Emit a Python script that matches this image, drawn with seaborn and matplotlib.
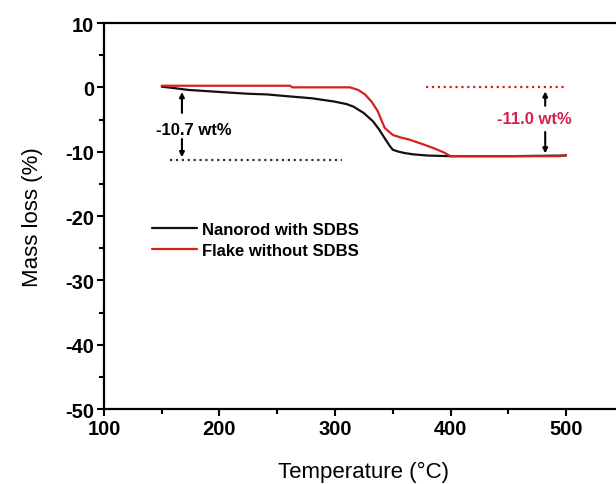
import numpy as np
import pandas as pd
import seaborn as sns
import matplotlib.pyplot as plt

# TGA curves
temp_black = [150, 160, 173, 190, 207, 225, 241, 260, 280, 299, 310, 316, 325, 333, 338,
              343, 347, 350, 355, 360, 367, 380, 400, 450, 500]
mass_black = [0.1, -0.1, -0.4, -0.6, -0.8, -1.0, -1.1, -1.4, -1.7, -2.2, -2.6, -3.0, -4.0, -5.3, -6.5,
              -7.9, -9.0, -9.7, -10.0, -10.2, -10.4, -10.6, -10.7, -10.7, -10.6]

temp_red = [150, 200, 261, 263, 300, 313, 320, 326, 332, 337, 343, 350, 357, 364, 377,
            386, 394, 400, 450, 495, 500]
mass_red = [0.25, 0.25, 0.25, 0.0, 0.0, 0.0, -0.4, -1.1, -2.3, -3.7, -6.3, -7.4, -7.8, -8.1, -8.9,
            -9.5, -10.1, -10.7, -10.7, -10.7, -10.5]

labels = ['Nanorod with SDBS', 'Flake without SDBS']
colors = ['#111111', '#d62020']

df = pd.concat([
    pd.DataFrame({'Temperature': temp_black, 'Mass': mass_black, 'Sample': labels[0]}),
    pd.DataFrame({'Temperature': temp_red, 'Mass': mass_red, 'Sample': labels[1]}),
])

sns.set_style('ticks')
plt.rcParams['font.family'] = ['Liberation Sans', 'DejaVu Sans']
plt.rcParams['axes.unicode_minus'] = False
plt.rcParams['text.color'] = 'black'
plt.rcParams['axes.labelcolor'] = 'black'
plt.rcParams['xtick.color'] = 'black'
plt.rcParams['ytick.color'] = 'black'
plt.rcParams['axes.edgecolor'] = 'black'

fig = plt.figure(figsize=(6.16, 4.85), dpi=100)
ax = fig.add_axes([0.1688, 0.1546, 0.8438, 0.7959])

sns.lineplot(data=df, x='Temperature', y='Mass', hue='Sample', palette=colors,
             sort=False, estimator=None, linewidth=1.6, ax=ax)

# annotation guides
ax.plot([157, 306], [-11.3, -11.3], linestyle=':', color='#333333', linewidth=1.6)
ax.plot([379, 500], [0, 0], linestyle=':', color='#d62020', linewidth=1.6)

arrow_k = dict(arrowstyle='-|>', color='black', lw=1.5, mutation_scale=7)
ax.annotate('', xy=(167.5, -0.3), xytext=(167.5, -4.4), arrowprops=arrow_k)
ax.annotate('', xy=(167.5, -11.3), xytext=(167.5, -7.6), arrowprops=arrow_k)
ax.text(178, -6.5, '-10.7 wt%', fontsize=12, fontweight='bold', ha='center', va='center')

ax.annotate('', xy=(482, -0.2), xytext=(482, -3.3), arrowprops=arrow_k)
ax.annotate('', xy=(482, -10.7), xytext=(482, -6.5), arrowprops=arrow_k)
ax.text(473, -4.9, '-11.0 wt%', fontsize=12, fontweight='bold', color='#d6204a',
        ha='center', va='center')

ax.set_xlim(100, 550)
ax.set_ylim(-50, 10)
ax.set_xticks([100, 200, 300, 400, 500])
ax.set_xticks([150, 250, 350, 450], minor=True)
ax.set_yticks(np.arange(-50, 11, 10))
ax.set_yticks(np.arange(-45, 10, 10), minor=True)
ax.tick_params(axis='both', which='major', direction='out', length=5, width=1.5,
               labelsize=14.5, pad=2)
ax.tick_params(axis='both', which='minor', direction='out', length=3.5, width=1.5)
for lab in ax.get_xticklabels() + ax.get_yticklabels():
    lab.set_fontweight('bold')

for side in ['left', 'bottom', 'top', 'right']:
    ax.spines[side].set_linewidth(1.6)
    ax.spines[side].set_visible(True)

ax.set_xlabel('Temperature (°C)', fontsize=16, labelpad=17)
ax.set_ylabel('Mass loss (%)', fontsize=16, labelpad=16)

ax.legend(loc='center left', bbox_to_anchor=(0.092, 0.438), frameon=False,
          borderpad=0, borderaxespad=0, handlelength=2.7, handletextpad=0.3,
          labelspacing=0.4, prop={'size': 12, 'weight': 'bold'})

fig.savefig('out.png', dpi=100)
